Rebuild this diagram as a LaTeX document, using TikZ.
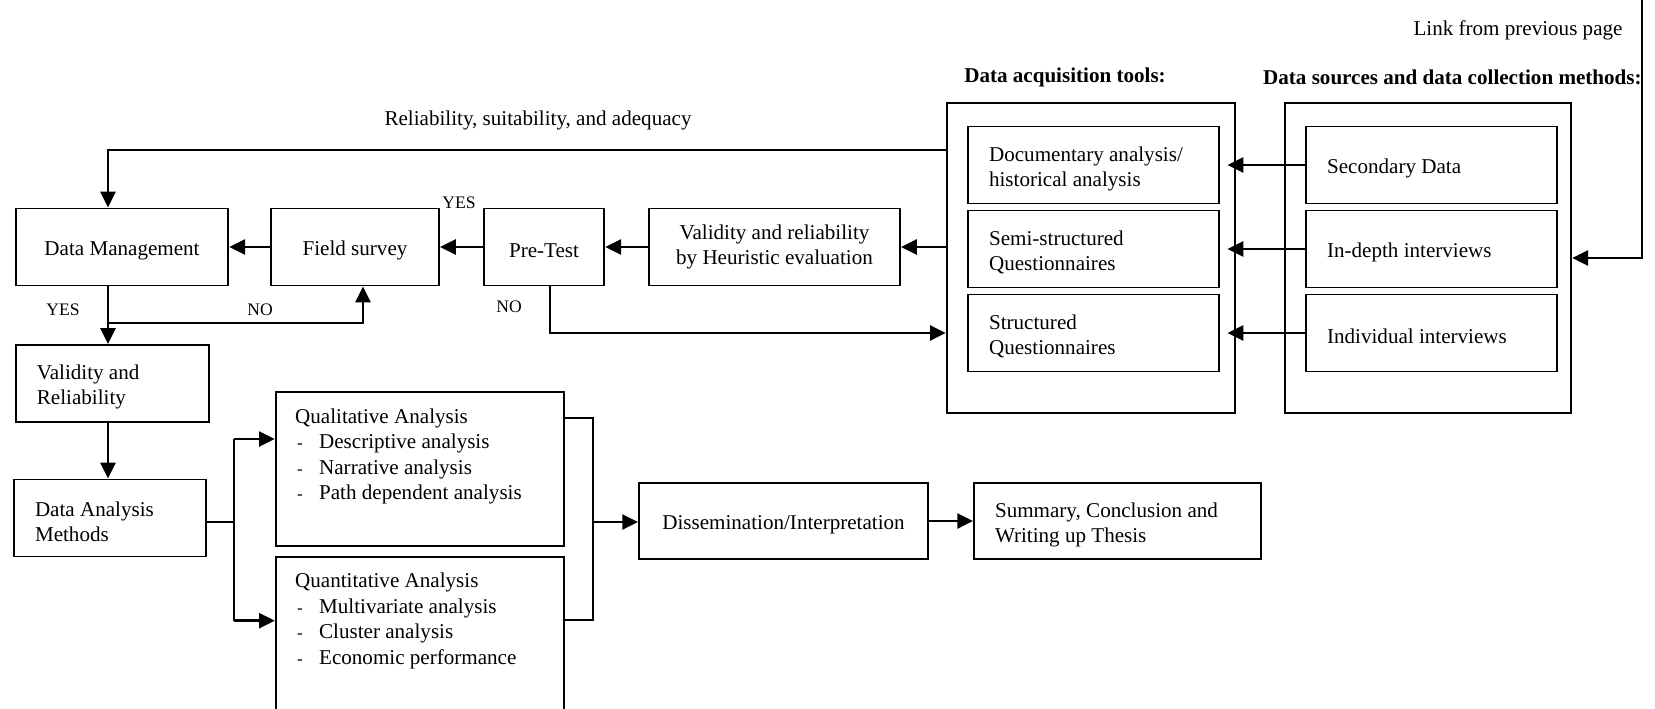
\documentclass[tikz,border=0pt]{standalone}
\usepackage{fontspec}
\setmainfont{Liberation Serif}
\usetikzlibrary{positioning, arrows.meta}
\tikzset{
box/.style={shape=rectangle, draw, line width=1.1pt, minimum height=1.54cm, inner sep=0, font=\fontsize{12}{14}\selectfont, align=center, execute at begin node={\rule{0pt}{0.44cm}}},
lbox/.style={box, align=flush left, inner xsep=0.42cm, text width=#1},
arr/.style={-{Triangle[length=9pt, width=8.5pt]}, line width=1.6pt},
link/.style={line width=1.1pt},
tag/.style={font=\fontsize{10}{12}\selectfont, inner sep=0},
plain/.style={font=\fontsize{12}{14}\selectfont, inner sep=0},
head/.style={plain, font=\fontsize{12}{14}\selectfont\bfseries}}

\begin{document}
\begin{tikzpicture}[x=0.02cm, y=-0.02cm]
\useasboundingbox (0,0) rectangle (1655,709);
\clip (0,0) rectangle (1655,709);

% acquisition tools and data sources
\node [box, minimum width=5.77cm, minimum height=6.21cm] at (1091, 258) (tools) {};
\node [box, minimum width=5.73cm, minimum height=6.21cm] at (1428, 258) (sources) {};
\node [head] at (1065, 77) (tools-head) {Data acquisition tools:};
\node [head, anchor=west] at (1262.8, 77) (sources-head) {Data sources and data collection methods:};
\foreach \tool/\src [count=\i, evaluate={\yy=165 + 84*(\i-1);}] in {{Documentary analysis/\\historical analysis}/Secondary Data, {Semi-structured\\Questionnaires}/In-depth interviews, {Structured\\Questionnaires}/Individual interviews}{
      \node [lbox=4.17cm] at (1093.3, \yy) (tool-\i) {\tool};
      \node [lbox=4.17cm] at (1431.3, \yy) (src-\i) {\src};
      \draw [arr, shorten >=0.16cm] (src-\i.west) -- (tool-\i.east);
}
\node [plain] at (1518, 30) (link-txt) {Link from previous page};
\coordinate (link-top) at (1642, 0);
\draw [arr] (link-top) |- (sources.east);

% testing chain
\node [box, minimum width=4.25cm] at (122, 247) (dm) {Data Management};
\node [box, minimum width=3.36cm] at (355, 247) (field) {Field survey};
\node [box, minimum width=2.41cm] at (544, 247) (pretest) {Pre-Test};
\node [box, minimum width=5.02cm] at (774.5, 247) (heur) {Validity and reliability\\by Heuristic evaluation};
\draw [arr] (tools.west |- heur.east) -- (heur.east);
\draw [arr] (heur) -- (pretest);
\draw [arr] (pretest) -- (field);
\draw [arr] (field) -- (dm);
\node [plain] at (538, 120) (rel-txt) {Reliability, suitability, and adequacy};
\coordinate (spine) at (108, 0);
\draw [arr] (tools.west |- 0,150) -| (spine |- dm.north);
\node [tag] at (459, 203) (yes-1) {YES};
\node [tag] at (509, 307) (no-1) {NO};
\draw [arr] ([xshift=0.12cm]pretest.south) |- (tools.west |- 0,333);

% validation and analysis
\node [lbox=3.02cm] at (112.4, 383.5) (valid) {Validity and\\Reliability};
\node [lbox=3.0cm] at (110, 518) (dam) {Data Analysis\\Methods};
\draw [arr] (spine |- dm.south) -- (spine |- valid.north);
\draw [arr] (spine |- 0,323) -| ([xshift=0.16cm]field.south);
\node [tag] at (63, 310) (yes-2) {YES};
\node [tag] at (260, 310) (no-2) {NO};
\draw [arr] (spine |- valid.south) -- (spine |- dam.north);

\node [box, minimum width=5.77cm, minimum height=3.07cm] at (420, 469) (qual) {};
\node [box, minimum width=5.77cm, minimum height=3.47cm] at (420, 643.3) (quant) {};
\node [plain, anchor=north west, align=left, font=\fontsize{12}{14.5}\selectfont] at ([shift={(0.4cm,-0.34cm)}]qual.north west) (qual-txt) {Qualitative Analysis\\
  \makebox[0.48cm][l]{\hspace{0.04cm}\scalebox{0.8}{-}}Descriptive analysis\\
  \makebox[0.48cm][l]{\hspace{0.04cm}\scalebox{0.8}{-}}Narrative analysis\\
  \makebox[0.48cm][l]{\hspace{0.04cm}\scalebox{0.8}{-}}Path dependent analysis};
\node [plain, anchor=north west, align=left, font=\fontsize{12}{14.5}\selectfont] at ([shift={(0.4cm,-0.34cm)}]quant.north west) (quant-txt) {Quantitative Analysis\\
  \makebox[0.48cm][l]{\hspace{0.04cm}\scalebox{0.8}{-}}Multivariate analysis\\
  \makebox[0.48cm][l]{\hspace{0.04cm}\scalebox{0.8}{-}}Cluster analysis\\
  \makebox[0.48cm][l]{\hspace{0.04cm}\scalebox{0.8}{-}}Economic performance};
\coordinate (split) at (233.6, 522);
\draw [line width=0.7pt] (dam.east |- split) -- (split);
\draw [link] (split |- 0,439) -- (split |- 0,620.7);
\draw [arr] (split |- 0,439) -- (qual.west |- 0,439);
\draw [arr] (split |- 0,620.7) -- (quant.west |- 0,620.7);

% dissemination
\node [box, minimum width=5.78cm, minimum height=1.53cm] at (783.5, 521) (dissem) {Dissemination/Interpretation};
\node [lbox=4.9cm, minimum height=1.53cm] at (1117.5, 521) (summ) {Summary, Conclusion and\\Writing up Thesis};
\coordinate (merge) at (592.6, 522);
\draw [link] (qual.east |- 0,417.7) -| (merge |- 0,620) -- (quant.east |- 0,620);
\draw [arr] (merge) -- (dissem.west |- merge);
\draw [arr] (dissem) -- (summ);
\end{tikzpicture}
\end{document}
